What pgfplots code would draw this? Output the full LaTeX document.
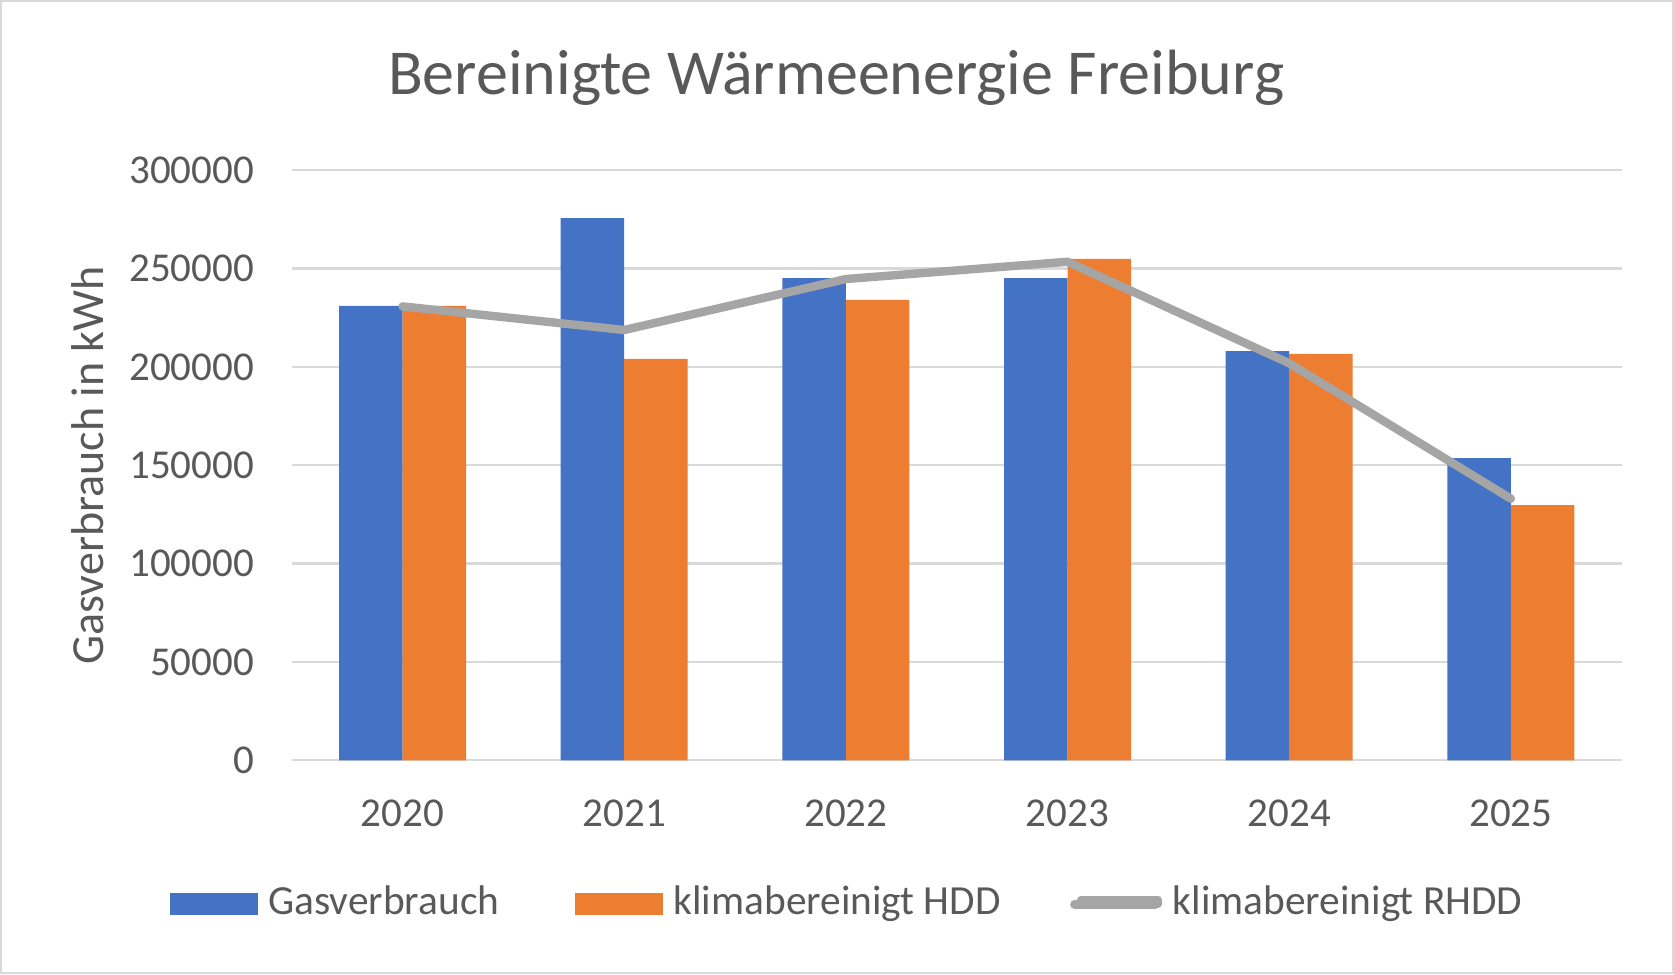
\documentclass[border=0pt]{standalone}
\usepackage{fontspec}
\setmainfont{Carlito}
\usepackage{pgfplots}
\pgfplotsset{compat=1.18}
\definecolor{cBlue}{HTML}{4472C4}
\definecolor{cOrange}{HTML}{ED7D31}
\definecolor{cGray}{HTML}{A5A5A5}
\definecolor{cGrid}{HTML}{D9D9D9}
\definecolor{cText}{HTML}{595959}

\begin{document}
\begin{tikzpicture}
\path[use as bounding box] (0,0) rectangle (837pt,487pt);
\draw[cGrid, line width=1pt] (0.5pt,0.5pt) rectangle (836.5pt,486.5pt);
\begin{axis}[
  at={(145.85pt,106.85pt)}, anchor=south west,
  scale only axis, width=665pt, height=295pt,
  xmin=-0.5, xmax=5.5, ymin=0, ymax=300000,
  xtick={0,1,2,3,4,5}, xticklabels={2020,2021,2022,2023,2024,2025},
  ytick={0,50000,100000,150000,200000,250000,300000},
  yticklabels={0,50000,100000,150000,200000,250000,300000},
  scaled y ticks=false,
  /pgf/number format/assume math mode=true,
  axis line style={draw=none},
  major tick length=0pt,
  ymajorgrids, grid style={cGrid, line width=1.2pt},
  tick label style={font=\fontsize{20.5}{24}\selectfont, text=cText},
  yticklabel style={anchor=east, inner sep=0pt, xshift=-18.6pt},
  xticklabel style={anchor=center, inner sep=0pt, yshift=-26.35pt},
  ylabel={Gasverbrauch in kWh},
  ylabel style={at={(axis description cs:-0.1417,0.5)}, anchor=base, rotate=0, inner sep=0pt, font=\fontsize{23}{27}\selectfont, text=cText},
  clip=false,
  legend columns=3,
  legend cell align=left,
  legend style={at={(axis description cs:-0.0915,-0.2399)}, anchor=west, draw=none, fill=none, inner sep=0pt, outer sep=0pt,
    font=\fontsize{20.7}{24}\selectfont, text=cText, nodes={inner sep=0pt},
    /tikz/every even column/.append style={column sep=38pt},
    /tikz/every odd column/.append style={column sep=5.3pt}},
]
\addplot[ybar, bar width=31.75pt, bar shift=-15.875pt, fill=cBlue, draw=none,
  legend image code/.code={\fill[cBlue] (0pt,-6.8pt) rectangle (43.85pt,4.55pt);}]
  coordinates {(0,231100) (1,275700) (2,245200) (3,245200) (4,208100) (5,153700)};
\addlegendentry{Gasverbrauch}
\addplot[ybar, bar width=31.75pt, bar shift=15.875pt, fill=cOrange, draw=none,
  legend image code/.code={\fill[cOrange] (0pt,-6.8pt) rectangle (43.85pt,4.55pt);}]
  coordinates {(0,231100) (1,204100) (2,234100) (3,255000) (4,206600) (5,129800)};
\addlegendentry{klimabereinigt HDD}
\addplot[sharp plot, color=cGray, line width=4.2pt, line cap=round, line join=round, mark=none,
  legend image code/.code={\path (0pt,-1pt) rectangle (38.5pt,1pt);
    \draw[overlay, cGray, line width=4.6pt, line cap=round] (-3.1pt,-1.3pt) -- (37.15pt,-1.3pt);}]
  coordinates {(0,230800) (1,218800) (2,244700) (3,253500) (4,201900) (5,133000)};
\addlegendentry{klimabereinigt RHDD}
\end{axis}
\node[anchor=base, inner sep=0pt, font=\fontsize{32}{38}\selectfont, text=cText] at (418pt,439.5pt) {Bereinigte Wärmeenergie Freiburg};
\end{tikzpicture}
\end{document}
